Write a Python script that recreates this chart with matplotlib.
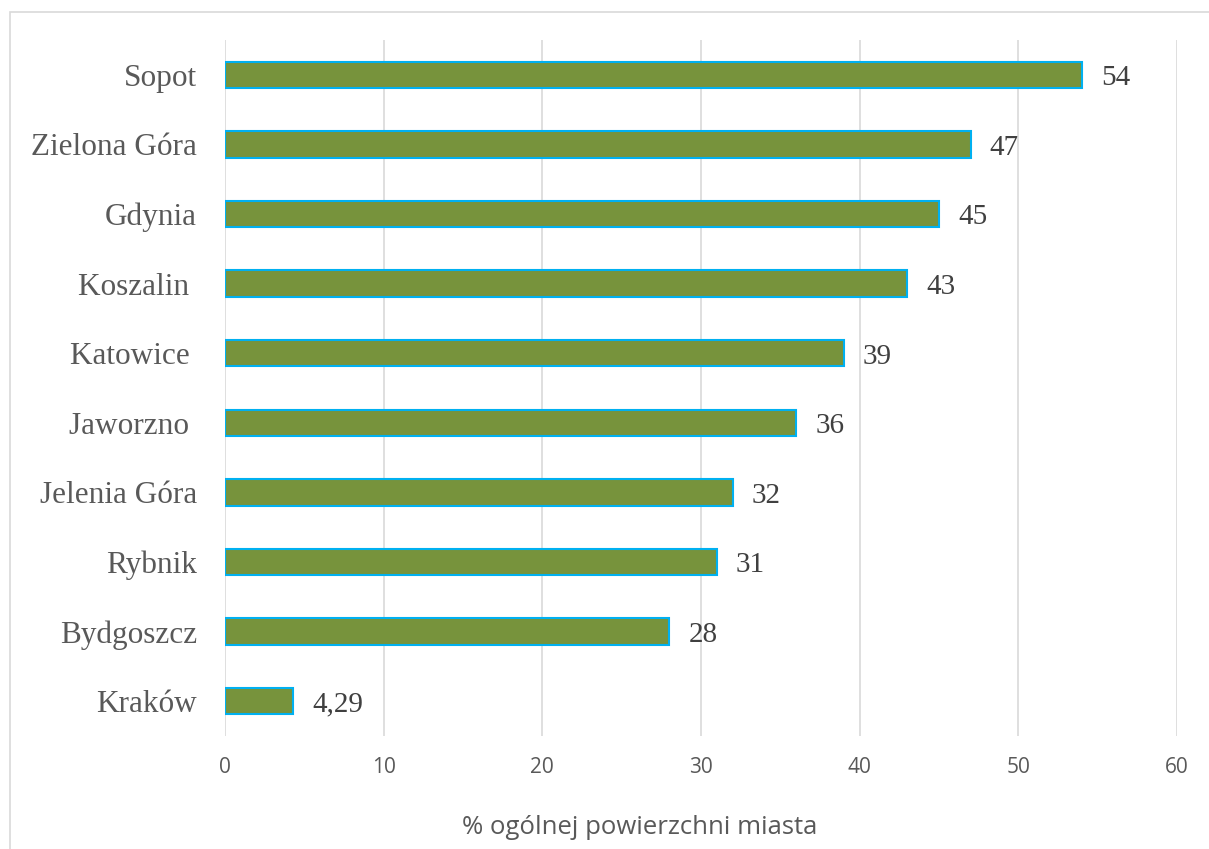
import matplotlib
matplotlib.use("Agg")
import matplotlib.pyplot as plt
from matplotlib.patches import Rectangle

cities = ["Sopot", "Zielona Góra", "Gdynia", "Koszalin ", "Katowice ",
          "Jaworzno ", "Jelenia Góra", "Rybnik", "Bydgoszcz", "Kraków"]
values = [54, 47, 45, 43, 39, 36, 32, 31, 28, 4.29]
value_labels = ["54", "47", "45", "43", "39", "36", "32", "31", "28", "4,29"]
xticks = [0, 10, 20, 30, 40, 50, 60]
xlabel = "% ogólnej powierzchni miasta"

W, H = 1209, 849
fig = plt.figure(figsize=(W/100, H/100), dpi=100)

# chart-area border
fig.add_artist(Rectangle((10/W, -0.01), 1.1, 1 - 12/H + 0.01, transform=fig.transFigure,
                         fill=False, edgecolor="#d9d9d9", linewidth=1.2))

ax = fig.add_axes([225/W, 1 - 736/H, (1177-225)/W, (736-40)/H])
n = len(cities)
pos = list(range(n))[::-1]
ax.barh(pos, values, height=0.38, color="#77933C", edgecolor="#00B0F0", linewidth=1.5, zorder=3)
for p, v, lab in zip(pos, values, value_labels):
    ax.text(v + 1.2, p - 0.05, lab, va="center", ha="left",
            fontfamily="Liberation Serif", fontsize=21, color="#404040")

ax.set_xlim(0, 60)
ax.set_ylim(-0.5, n - 0.5)
ax.set_yticks(pos)
ax.set_yticklabels(cities, fontfamily="Liberation Serif", fontsize=22.5, color="#595959")
ax.set_xticks(xticks)
ax.set_xticklabels([str(t) for t in xticks], fontfamily="Open Sans", fontsize=15, color="#595959")
ax.tick_params(axis="both", length=0)
ax.tick_params(axis="x", pad=15)
ax.tick_params(axis="y", pad=20)
ax.grid(axis="x", color="#d9d9d9", linewidth=1.2, zorder=0)
for s in ax.spines.values():
    s.set_visible(False)
fig.text(640/W, 1 - 828/H, xlabel, ha="center", va="center",
         fontfamily="Open Sans", fontsize=18.5, color="#595959")

fig.savefig("out.png", dpi=100)
